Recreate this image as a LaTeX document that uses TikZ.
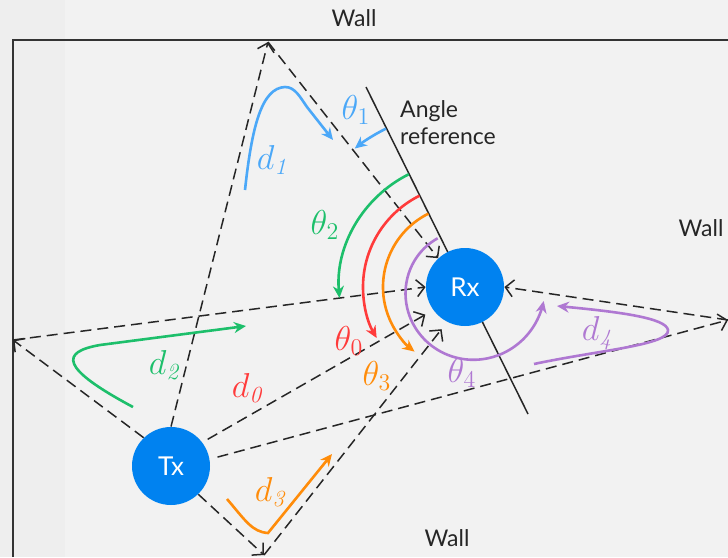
\documentclass[tikz,border=0pt]{standalone}
\usepackage{fontspec}
\setsansfont{Lato}
\usepackage{tikz}
\usetikzlibrary{arrows.meta,calc}

\definecolor{bgGrey}{HTML}{F2F2F2}
\definecolor{stripGrey}{HTML}{EEEEEE}
\definecolor{wallGrey}{HTML}{333333}
\definecolor{nodeBlue}{HTML}{0082F0}
\definecolor{pathBlue}{HTML}{4BA8F8}
\definecolor{pathGreen}{HTML}{1DBF6B}
\definecolor{pathRed}{HTML}{FF3B3B}
\definecolor{pathOrange}{HTML}{FF8C0A}
\definecolor{pathPurple}{HTML}{AF78D2}

\begin{document}
\begin{tikzpicture}[x=0.5pt,y=-0.5pt,
    ray/.style={dash pattern=on 5.5pt off 3pt,line width=0.75pt,black!85},
    hit/.style={ray,-{Straight Barb[length=4pt,width=8.5pt]}},
    trx/.style={circle,fill=nodeBlue,minimum size=39pt,inner sep=0pt,text=white,
        font=\sffamily\fontsize{13}{15}\selectfont},
    trace/.style={line width=1.3pt,-{Stealth[length=6pt,width=5.5pt]}},
    lab/.style={font=\fontsize{16.5}{19}\selectfont},
    txt/.style={font=\sffamily\fontsize{11.5}{13.5}\selectfont,text=black!85}]
    \useasboundingbox (0,0) rectangle (728,557);
    \fill[bgGrey] (0,0) rectangle (728,557);
    \fill[stripGrey] (0,0) rectangle (65,557);
    \draw[wallGrey,line width=0.8pt] (13,557) -- (13,40) -- (728,40);
    \node[txt] (wallTop) at (354,18) {Wall};
    \node[txt] (wallRight) at (701,228) {Wall};
    \node[txt] (wallBot) at (447,538) {Wall};
    \node[txt,align=left] (angRef) at (448,123) {Angle\\reference};

    % angle reference through Rx
    \draw[black!85,line width=0.75pt] (366,87) -- (528,414);

    \node[trx] (Tx) at (171,466) {Tx};
    \node[trx] (Rx) at (465,287) {Rx};

    \coordinate (topHit) at (268,42);
    \coordinate (leftHit) at (13,340);
    \coordinate (botHit) at (264,555);
    \coordinate (rightHit) at (728,320);

    \draw[hit] (Tx.north) -- (topHit);
    \draw[hit] (topHit) -- (Rx.133);
    \draw[hit] (Tx.134) -- (leftHit);
    \draw[hit] (leftHit) -- (Rx.west);
    \draw[hit,shorten <=3pt,shorten >=4.5pt] (Tx.37) -- (Rx.216);
    \draw[hit] (Tx.-46) -- (botHit);
    \draw[hit,shorten >=4.5pt] (botHit) -- (Rx.243);
    \draw[hit,shorten <=4pt] (Tx.10) -- (rightHit);
    \draw[hit] (rightHit) -- (Rx.east);

    % path lengths
    \draw[trace,pathBlue] (245,190) .. controls (252,125) and (262,88) .. (285,87)
        .. controls (295,87) and (300,97) .. (307,107) -- (333,140);
    \draw[trace,pathGreen] (133,407) .. controls (60,368) and (60,352) .. (100,345) -- (246,326);
    \draw[trace,pathOrange] (227,499) .. controls (245,520) and (252,532) .. (268,533) -- (332,454);
    \draw[trace,pathPurple] (534,364) .. controls (600,350) and (670,345) .. (668,330)
        .. controls (666,318) and (620,312) .. (557,306);

    % angles
    \draw[trace,pathBlue] ($(Rx)+(-116.5:177)$) arc[start angle=-116.5,end angle=-128.5,radius=177];
    \draw[trace,pathGreen] ($(Rx)+(-116.5:126)$) arc[start angle=-116.5,end angle=-185,radius=126];
    \draw[trace,pathRed] ($(Rx)+(-116.5:102)$) arc[start angle=-116.5,end angle=-210,radius=102];
    \draw[trace,pathOrange] ($(Rx)+(-116.5:82)$) arc[start angle=-116.5,end angle=-232,radius=82];
    \draw[trace,pathPurple] plot[domain=122:351.5,samples=60,smooth]
        ({470+(61+(\x-122)*0.0588)*cos(\x)},{290-(61+(\x-122)*0.0588)*sin(\x)});

    \node[lab,text=pathBlue] (dOne) at (272,160) {$d_{\mathit{1}}$};
    \node[lab,text=pathGreen] (dTwo) at (164,365) {$d_{\mathit{2}}$};
    \node[lab,text=pathRed] (dZero) at (247,388) {$d_{\mathit{0}}$};
    \node[lab,text=pathOrange] (dThree) at (270,492) {$d_{\mathit{3}}$};
    \node[lab,text=pathPurple] (dFour) at (597,333) {$d_{\mathit{4}}$};
    \node[lab,text=pathBlue] (thOne) at (356,110) {$\theta_{1}$};
    \node[lab,text=pathGreen] (thTwo) at (325,225) {$\theta_{2}$};
    \node[lab,text=pathRed] (thZero) at (349,341) {$\theta_{0}$};
    \node[lab,text=pathOrange] (thThree) at (377,376) {$\theta_{3}$};
    \node[lab,text=pathPurple] (thFour) at (462,373) {$\theta_{4}$};
\end{tikzpicture}
\end{document}
